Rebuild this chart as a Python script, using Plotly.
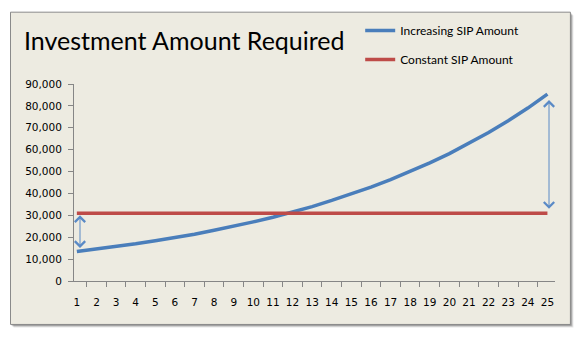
import plotly.graph_objects as go

# Year of the SIP (1..25) and monthly amounts needed
years = [str(n) for n in range(1, 26)]
increasing_sip = [13500, 14600, 15700, 17000, 18400, 19800, 21400, 23200, 25000, 27000,
                  29100, 31400, 34000, 36800, 39800, 42900, 46300, 50000, 54000, 58200,
                  62800, 67800, 73200, 79000, 85400]
constant_sip = [30900] * 25
y_ticks = [0, 10000, 20000, 30000, 40000, 50000, 60000, 70000, 80000, 90000]

BLUE = "#4A7EBB"
RED = "#BE4B48"
ARROW = "#5A8AC6"
BG = "#EDEBE1"
AXIS = "#868686"
TICK_FONT = dict(family="DejaVu Sans", size=10.5, color="#000000")

fig = go.Figure()
fig.add_trace(go.Scatter(x=years, y=increasing_sip, mode="lines", name="Increasing SIP Amount",
                         line=dict(color=BLUE, width=3.5), legendgroup="a"))
fig.add_trace(go.Scatter(x=years, y=constant_sip, mode="lines", name="Constant SIP Amount",
                         line=dict(color=RED, width=3.5), legendgroup="b"))

# Double-headed arrows showing the gap at the first and the last year
gaps = [(0 + 0.16, constant_sip[0], increasing_sip[0], 2, 2),
        (len(years) - 1 + 0.08, increasing_sip[-1], constant_sip[-1], 6, 3)]
for xi, y_head, y_tail, so_end, so_start in gaps:
    fig.add_annotation(x=xi, y=y_head, ax=xi, ay=y_tail, xref="x", yref="y", axref="x", ayref="y",
                       text="", showarrow=True, arrowside="end+start",
                       arrowhead=4, startarrowhead=4, arrowsize=2, startarrowsize=2,
                       arrowwidth=1, arrowcolor=ARROW, standoff=so_end, startstandoff=so_start)

# Chart-area frame with a soft drop shadow
box = dict(x0=-0.132, x1=1.032, y0=-0.2205, y1=1.3646)
for off, op in [(3, 0.10), (2, 0.18), (1, 0.25)]:
    dx = off / 481
    dy = off / 196.4
    fig.add_shape(type="rect", xref="paper", yref="paper",
                  x0=box["x0"] + dx, x1=box["x1"] + dx, y0=box["y0"] - dy, y1=box["y1"] - dy,
                  line=dict(width=0), fillcolor=f"rgba(0,0,0,{op})", layer="below")
fig.add_shape(type="rect", xref="paper", yref="paper", **box,
              line=dict(color="#8A8A8A", width=1), fillcolor=BG, layer="below")

fig.update_layout(
    width=585, height=338,
    margin=dict(l=74, r=30, t=84, b=57),
    paper_bgcolor="white", plot_bgcolor=BG,
    title=dict(text="Investment Amount Required", x=24 / 585, xanchor="left",
               y=1 - 41 / 338, yanchor="middle", xref="container", yref="container",
               font=dict(family="Lato", size=25, color="#000000")),
    legend=dict(x=0.595, y=1.345, xanchor="left", yanchor="top", bgcolor="rgba(0,0,0,0)",
                font=dict(family="Lato", size=12, color="#000000"), tracegroupgap=10),
    showlegend=True,
)
fig.update_xaxes(type="category", tickson="boundaries", ticks="outside", ticklen=5,
                 tickcolor=AXIS, showline=True, linecolor=AXIS, linewidth=1, tickangle=0,
                 showgrid=False, zeroline=False, tickfont=TICK_FONT, ticklabelstandoff=11)
fig.update_yaxes(range=[0, 90000], tickvals=y_ticks, tickformat=",d", ticks="outside", ticklen=5,
                 tickcolor=AXIS, showline=True, linecolor=AXIS, linewidth=1,
                 showgrid=False, zeroline=False, tickfont=TICK_FONT, ticklabelstandoff=4)

fig.write_html("out.html")
